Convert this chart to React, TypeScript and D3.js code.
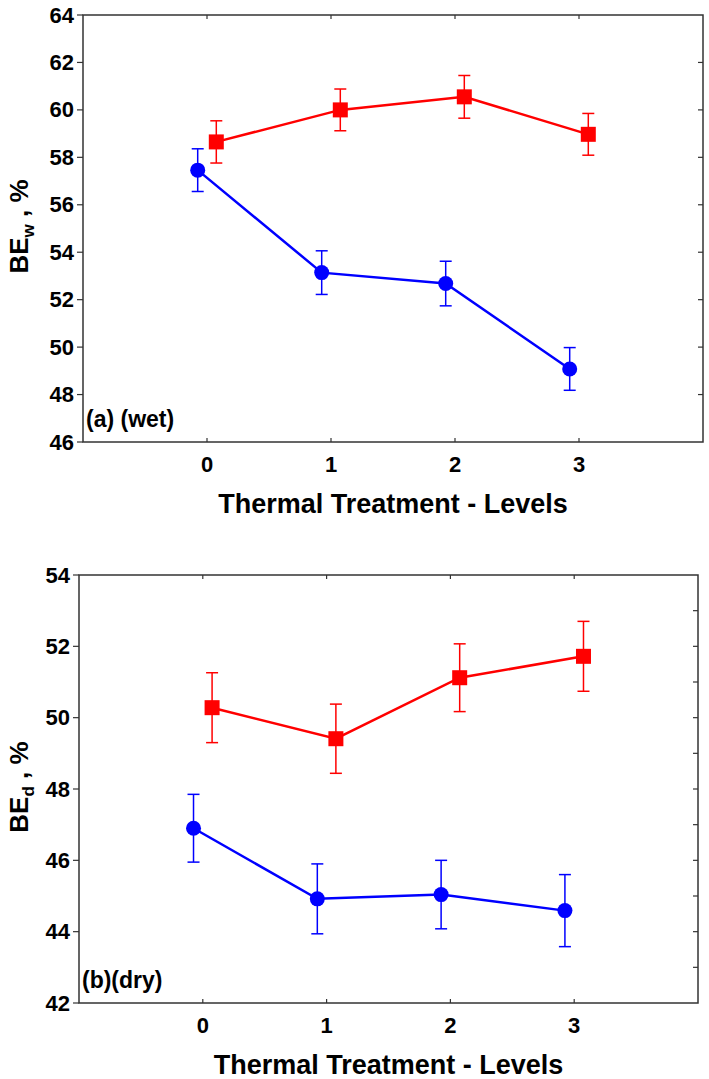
import React, { useEffect, useRef } from "react";
import * as d3 from "d3";

// treatment levels on the x axis
const levels = [0, 1, 2, 3];

// (a) wet
const wetRed = [58.65, 60.0, 60.55, 58.97];
const wetRedErr = [0.89, 0.88, 0.9, 0.88];
const wetBlue = [57.46, 53.14, 52.68, 49.08];
const wetBlueErr = [0.9, 0.92, 0.94, 0.9];
const wetTicks = [46, 48, 50, 52, 54, 56, 58, 60, 62, 64];

// (b) dry
const dryRed = [50.28, 49.41, 51.12, 51.72];
const dryRedErr = [0.98, 0.97, 0.95, 0.98];
const dryBlue = [46.9, 44.92, 45.04, 44.59];
const dryBlueErr = [0.95, 0.98, 0.96, 1.01];
const dryTicks = [42, 44, 46, 48, 50, 52, 54];
const dryMinorTicks = [43, 44, 45, 46, 47, 48, 49, 50, 51, 52, 53];

const W = 709;
const H = 1079;
const FONT = "'Liberation Sans', Arial, sans-serif";
const RED = "#ff0000";
const BLUE = "#0000ff";
const OFFSET = 0.075;

type Panel = {
	box: { left: number; top: number; right: number; bottom: number };
	yDomain: [number, number];
	yTicks: number[];
	rightTicks: number[];
	red: number[];
	redErr: number[];
	blue: number[];
	blueErr: number[];
	sub: string;
	tag: string;
};

const panels: Panel[] = [
	{
		box: { left: 83, top: 15, right: 703, bottom: 442 },
		yDomain: [46, 64],
		yTicks: wetTicks,
		rightTicks: wetTicks.slice(1, -1),
		red: wetRed,
		redErr: wetRedErr,
		blue: wetBlue,
		blueErr: wetBlueErr,
		sub: "w",
		tag: "(a) (wet)",
	},
	{
		box: { left: 79, top: 575, right: 698, bottom: 1003 },
		yDomain: [42, 54],
		yTicks: dryTicks,
		rightTicks: dryMinorTicks,
		red: dryRed,
		redErr: dryRedErr,
		blue: dryBlue,
		blueErr: dryBlueErr,
		sub: "d",
		tag: "(b)(dry)",
	},
];

function drawPanel(svg: d3.Selection<SVGSVGElement, unknown, null, undefined>, p: Panel) {
	const { left, top, right, bottom } = p.box;
	const x = d3.scaleLinear().domain([-1, 4]).range([left, right]);
	const y = d3.scaleLinear().domain(p.yDomain).range([bottom, top]);
	const g = svg.append("g");

	// frame
	g.append("rect")
		.attr("x", left)
		.attr("y", top)
		.attr("width", right - left)
		.attr("height", bottom - top)
		.attr("fill", "none")
		.attr("stroke", "#333")
		.attr("stroke-width", 1.5);

	// left axis ticks + labels
	p.yTicks.forEach(t => {
		g.append("line")
			.attr("x1", left - 6)
			.attr("x2", left)
			.attr("y1", y(t))
			.attr("y2", y(t))
			.attr("stroke", "#333")
			.attr("stroke-width", 1.2);
		g.append("text")
			.attr("x", left - 9)
			.attr("y", y(t) + 7.5)
			.attr("text-anchor", "end")
			.attr("font-family", FONT)
			.attr("font-weight", "bold")
			.attr("font-size", 22)
			.text(t);
	});

	// right axis ticks (inward)
	p.rightTicks.forEach(t => {
		g.append("line")
			.attr("x1", right - 5)
			.attr("x2", right)
			.attr("y1", y(t))
			.attr("y2", y(t))
			.attr("stroke", "#333")
			.attr("stroke-width", 1.2);
	});

	// top and bottom ticks + labels
	levels.forEach(l => {
		g.append("line")
			.attr("x1", x(l))
			.attr("x2", x(l))
			.attr("y1", top)
			.attr("y2", top + 4)
			.attr("stroke", "#333")
			.attr("stroke-width", 1.2);
		g.append("line")
			.attr("x1", x(l))
			.attr("x2", x(l))
			.attr("y1", bottom)
			.attr("y2", bottom - 4)
			.attr("stroke", "#333")
			.attr("stroke-width", 1.2);
		g.append("text")
			.attr("x", x(l))
			.attr("y", bottom + 30)
			.attr("text-anchor", "middle")
			.attr("font-family", FONT)
			.attr("font-weight", "bold")
			.attr("font-size", 22)
			.text(l);
	});

	// x axis title
	g.append("text")
		.attr("x", (left + right) / 2)
		.attr("y", bottom + 71)
		.attr("text-anchor", "middle")
		.attr("font-family", FONT)
		.attr("font-weight", "bold")
		.attr("font-size", 27)
		.text("Thermal Treatment - Levels");

	// y axis title
	const yt = g
		.append("text")
		.attr("transform", `translate(28, ${(top + bottom) / 2 - 2}) rotate(-90)`)
		.attr("text-anchor", "middle")
		.attr("font-family", FONT)
		.attr("font-weight", "bold")
		.attr("font-size", 26);
	yt.append("tspan").text("BE");
	yt.append("tspan").attr("font-size", 17).attr("dy", 6).text(p.sub);
	yt.append("tspan").attr("dy", -6).text(" , %");

	// panel tag
	g.append("text")
		.attr("x", left + 3)
		.attr("y", bottom - 15)
		.attr("font-family", FONT)
		.attr("font-weight", "bold")
		.attr("font-size", 23)
		.text(p.tag);

	const series = [
		{ vals: p.blue, err: p.blueErr, dx: -OFFSET, color: BLUE, shape: "circle" },
		{ vals: p.red, err: p.redErr, dx: OFFSET, color: RED, shape: "square" },
	];

	series.forEach(s => {
		const pts = levels.map((l, i) => ({ x: l + s.dx, v: s.vals[i], e: s.err[i] }));

		// error bars
		pts.forEach(d => {
			const cx = x(d.x);
			g.append("line")
				.attr("x1", cx)
				.attr("x2", cx)
				.attr("y1", y(d.v - d.e))
				.attr("y2", y(d.v + d.e))
				.attr("stroke", s.color)
				.attr("stroke-width", 1.5);
			[d.v - d.e, d.v + d.e].forEach(v => {
				g.append("line")
					.attr("x1", cx - 6)
					.attr("x2", cx + 6)
					.attr("y1", y(v))
					.attr("y2", y(v))
					.attr("stroke", s.color)
					.attr("stroke-width", 1.5);
			});
		});

		// line
		g.append("path")
			.datum(pts)
			.attr("fill", "none")
			.attr("stroke", s.color)
			.attr("stroke-width", 2.5)
			.attr(
				"d",
				d3
					.line<{ x: number; v: number }>()
					.x(d => x(d.x))
					.y(d => y(d.v))
			);

		// markers
		pts.forEach(d => {
			if (s.shape === "circle") {
				g.append("circle")
					.attr("cx", x(d.x))
					.attr("cy", y(d.v))
					.attr("r", 7.5)
					.attr("fill", s.color);
			} else {
				g.append("rect")
					.attr("x", x(d.x) - 7.5)
					.attr("y", y(d.v) - 7.5)
					.attr("width", 15)
					.attr("height", 15)
					.attr("fill", s.color);
			}
		});
	});
}

export default function App() {
	const ref = useRef<SVGSVGElement>(null);

	useEffect(() => {
		const svg = d3.select(ref.current as SVGSVGElement);
		svg.selectAll("*").remove();
		svg.append("rect").attr("width", W).attr("height", H).attr("fill", "#fff");
		panels.forEach(p => drawPanel(svg, p));
	}, []);

	return (
		<svg
			ref={ref}
			width={W}
			height={H}
			style={{ position: "absolute", left: 0, top: 0 }}
		/>
	);
}
